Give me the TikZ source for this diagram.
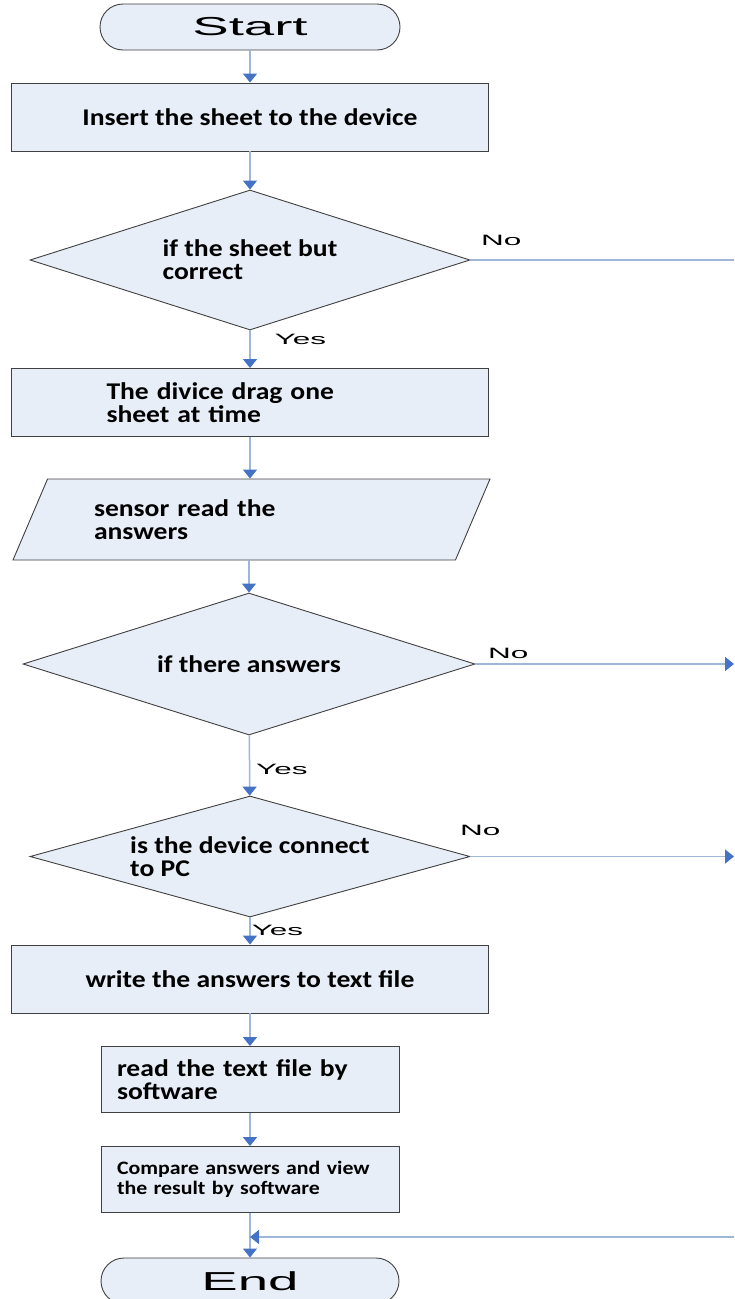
\documentclass[tikz,border=0pt]{standalone}
\usepackage{fontspec}
\setmainfont{Carlito}
\newfontfamily\wideface[FakeStretch=2.1]{Liberation Sans}
\newfontfamily\boxface[FakeStretch=1.15]{Carlito}
\usepackage{tikz}
\usetikzlibrary{shapes.geometric, arrows.meta}
\definecolor{shapefill}{RGB}{232,238,247}
\definecolor{shapeline}{RGB}{64,64,64}
\definecolor{flowline}{RGB}{158,182,216}
\definecolor{flowhead}{RGB}{68,114,196}
\tikzstyle{startstop} = [rectangle, rounded corners=23pt, minimum width=300pt, minimum height=46pt, draw=shapeline, fill=shapefill, line width=0.9pt, font=\wideface\fontsize{26}{28}\selectfont]
\tikzstyle{process} = [rectangle, minimum width=477pt, minimum height=68pt, text centered, draw=shapeline, fill=shapefill, line width=0.9pt, font=\boxface\fontsize{24}{23}\selectfont\bfseries]
\tikzstyle{smallprocess} = [process, minimum width=298pt, minimum height=66pt, align=left, text width=266pt]
\tikzstyle{io} = [trapezium, trapezium left angle=53.5, trapezium right angle=126.5, trapezium stretches body=true, minimum width=477pt, minimum height=81pt, align=left, text width=315pt, draw=shapeline, fill=shapefill, line width=0.9pt, font=\boxface\fontsize{24}{23}\selectfont\bfseries]
\tikzstyle{decision} = [diamond, aspect=3.14, minimum width=440pt, minimum height=140pt, inner sep=0pt, align=left, draw=shapeline, fill=shapefill, line width=0.9pt, font=\boxface\fontsize{24}{23}\selectfont\bfseries]
\tikzstyle{arrow} = [line width=1.5pt, draw=flowline, -{Triangle[width=14pt, length=9pt, color=flowhead]}]
\tikzstyle{line} = [line width=1.5pt, draw=flowline]
\tikzstyle{answer} = [font=\wideface\fontsize{15}{16}\selectfont, inner sep=0pt, anchor=base west]

\begin{document}
\begin{tikzpicture}[x=1pt, y=1pt]
\useasboundingbox (0,0) rectangle (734,-1299);
\node (start) [startstop] at (250,-27) {Start};
\node (insert) [process, node distance=90pt, below of=start] {Insert the sheet to the device};
\node (sheetok) [decision, node distance=143pt, below of=insert] {if the sheet but\\correct};
\node (drag) [process, node distance=142.5pt, below of=sheetok, align=left, text width=287pt] {The divice drag one\\sheet at time};
\node (sensor) [io, node distance=117pt, below of=drag, xshift=1.5pt] {sensor read the\\answers};
\node (answers) [decision, node distance=144.5pt, below of=sensor, xshift=-2.5pt, minimum width=452pt, minimum height=142pt] {if there answers};
\node (connected) [decision, node distance=192.5pt, below of=answers, xshift=1pt, aspect=3.6, minimum width=440pt, minimum height=121pt] {is the device connect\\to PC};
\node (write) [process, node distance=122.5pt, below of=connected] {write the answers to text file};
\node (readfile) [smallprocess, node distance=100.5pt, below of=write] {read the text file by\\software};
\node (compare) [smallprocess, node distance=100pt, below of=readfile, font=\boxface\fontsize{19}{20}\selectfont\bfseries] {Compare answers and view\\the result by software};
\node (end) [startstop, node distance=101.5pt, below of=compare, minimum width=298pt] {End};

% exits on the right border
\coordinate (exit1) at (734,-260);
\coordinate (exit2) at (734,-664);
\coordinate (exit3) at (734,-856.5);
\coordinate (back) at (734,-1237);

\draw [arrow] (start) -- (insert);
\draw [arrow] (insert) -- (sheetok);
\draw [line] (sheetok.east) -- node[answer, pos=0, xshift=10pt, yshift=15pt] {No} (exit1);
\draw [arrow] (sheetok) -- node[answer, pos=0, xshift=24pt, yshift=-14pt] {Yes} (drag);
\draw [arrow] (drag) -- (sensor.north -| drag);
\draw [arrow] (sensor.south -| answers) -- (answers);
\draw [arrow] (answers.east) -- node[answer, pos=0, xshift=12pt, yshift=6pt] {No} (exit2);
\draw [arrow] (answers) -- node[answer, pos=0, xshift=6pt, yshift=-39pt] {Yes} (connected);
\draw [arrow] (connected.east) -- node[answer, pos=0, xshift=-11pt, yshift=21pt] {No} (exit3);
\draw [arrow] (connected) -- node[answer, pos=0, xshift=1pt, yshift=-18pt] {Yes} (write);
\draw [arrow] (write) -- (readfile);
\draw [arrow] (readfile) -- (compare);
\draw [arrow] (compare) -- (end);
\draw [arrow] (back) -- (back -| end.north);
\end{tikzpicture}
\end{document}
